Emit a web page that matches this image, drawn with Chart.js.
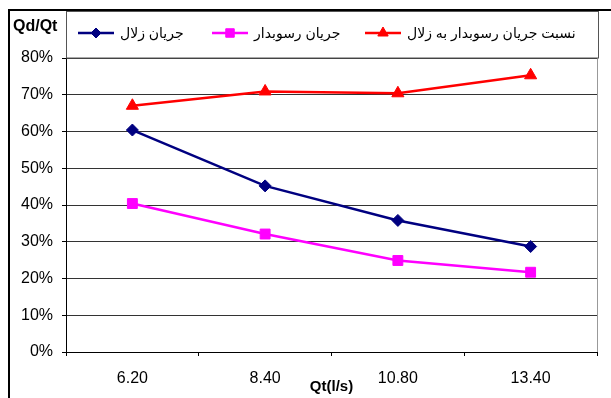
<!DOCTYPE html>
<html>
<head>
<meta charset="utf-8">
<script src="https://cdn.jsdelivr.net/npm/chart.js@4.4.1/dist/chart.umd.min.js"></script>
<style>
  html, body { margin: 0; padding: 0; background: #fff; }
  #wrap { position: relative; width: 611px; height: 398px; }
</style>
</head>
<body>
<div id="wrap"><canvas id="chart" width="611" height="398"></canvas></div>
<script>
// Qt (l/s) categories
const categories = ['6.20', '8.40', '10.80', '13.40'];
// Qd/Qt in percent
const clearFlow    = [60.4, 45.2, 35.8, 28.7];   // جریان زلال
const sedimentFlow = [40.4, 32.1, 24.9, 21.7];   // جریان رسوبدار
const ratioFlow    = [67.0, 70.9, 70.4, 75.3];   // نسبت جریان رسوبدار به زلال
const seriesNames  = ['جریان زلال', 'جریان رسوبدار', 'نسبت جریان رسوبدار به زلال'];
const yMin = 0, yMax = 80, yStep = 10;

const FONT = '"Liberation Sans", Arial, "DejaVu Sans", sans-serif';

/* ── decoration: frame, legend box, y title ─────────────────── */
const framePlugin = {
  id: 'frame',
  afterDraw(chart) {
    const { ctx, chartArea: a } = chart;
    ctx.save();

    // outer frame (top + left)
    ctx.strokeStyle = '#000';
    ctx.lineWidth = 2;
    ctx.beginPath();
    ctx.moveTo(9, 398); ctx.lineTo(9, 10); ctx.lineTo(611, 10);
    ctx.stroke();

    // right edge of plot
    ctx.strokeStyle = '#999';
    ctx.lineWidth = 1;
    ctx.beginPath();
    ctx.moveTo(a.right + 0.5, a.top); ctx.lineTo(a.right + 0.5, a.bottom);
    ctx.stroke();

    // legend box
    ctx.strokeStyle = '#555';
    ctx.strokeRect(a.left + 0.5, 11.5, 598 - a.left, a.top - 11.5);

    // y title
    ctx.fillStyle = '#000';
    ctx.font = 'bold 16px ' + FONT;
    ctx.textAlign = 'left';
    ctx.textBaseline = 'middle';
    ctx.fillText('Qd/Qt', 13, 27);

    // legend items: line + marker, then text
    const starts = [78, 212, 365];
    const symW = 36, gap = 6, cy = 33;
    ctx.font = '14px ' + FONT;
    chart.data.datasets.forEach((d, i) => {
      const x = starts[i];
      ctx.strokeStyle = d.borderColor;
      ctx.fillStyle = d.backgroundColor;
      ctx.lineWidth = 2.5;
      ctx.beginPath();
      ctx.moveTo(x, cy); ctx.lineTo(x + symW, cy);
      ctx.stroke();
      ctx.lineWidth = 1;
      Chart.helpers.drawPoint(ctx, {
        pointStyle: d.pointStyle, radius: d.pointRadius - 1, rotation: 0, borderWidth: 1
      }, x + symW / 2, cy);
      ctx.fillStyle = '#000';
      ctx.fillText(d.label, x + symW + gap, cy + 1);
    });

    ctx.restore();
  }
};

function series(label, data, color, style, radius) {
  return {
    label, data,
    borderColor: color,
    backgroundColor: color,
    pointBackgroundColor: color,
    pointBorderColor: color,
    pointBorderWidth: 1,
    pointStyle: style,
    pointRadius: radius,
    borderWidth: 2.5,
    tension: 0,
  };
}

new Chart(document.getElementById('chart'), {
  type: 'line',
  data: {
    labels: categories,
    datasets: [
      series(seriesNames[0], clearFlow,    '#000080', 'rectRot',  6),
      series(seriesNames[1], sedimentFlow, '#ff00ff', 'rect',     7),
      series(seriesNames[2], ratioFlow,    '#ff0000', 'triangle', 7),
    ],
  },
  options: {
    responsive: false,
    animation: false,
    layout: { padding: { top: 58, right: 14, bottom: 0, left: 0 } },
    plugins: {
      legend: { display: false },
      tooltip: { enabled: false },
    },
    scales: {
      x: {
        offset: true,
        afterFit(scale) { scale.height = 46; },
        grid: { offset: true, drawOnChartArea: false, drawTicks: true, tickLength: 4, tickColor: '#000' },
        border: { color: '#000', width: 1 },
        ticks: { color: '#000', font: { size: 16, family: FONT }, padding: 13, maxRotation: 0, autoSkip: false },
        title: {
          display: true, text: 'Qt(l/s)', color: '#000',
          font: { size: 15, weight: 'bold', family: FONT },
          padding: { top: 0, bottom: 2 },
        },
      },
      y: {
        min: yMin, max: yMax,
        afterFit(scale) { scale.width = 66; },
        grid: { color: '#333', tickLength: 4, tickColor: '#000' },
        border: { color: '#000', width: 1 },
        ticks: {
          stepSize: yStep, color: '#000', padding: 9,
          font: { size: 16, family: FONT },
          callback: v => v + '%',
        },
      },
    },
  },
  plugins: [framePlugin],
});
</script>
</body>
</html>
